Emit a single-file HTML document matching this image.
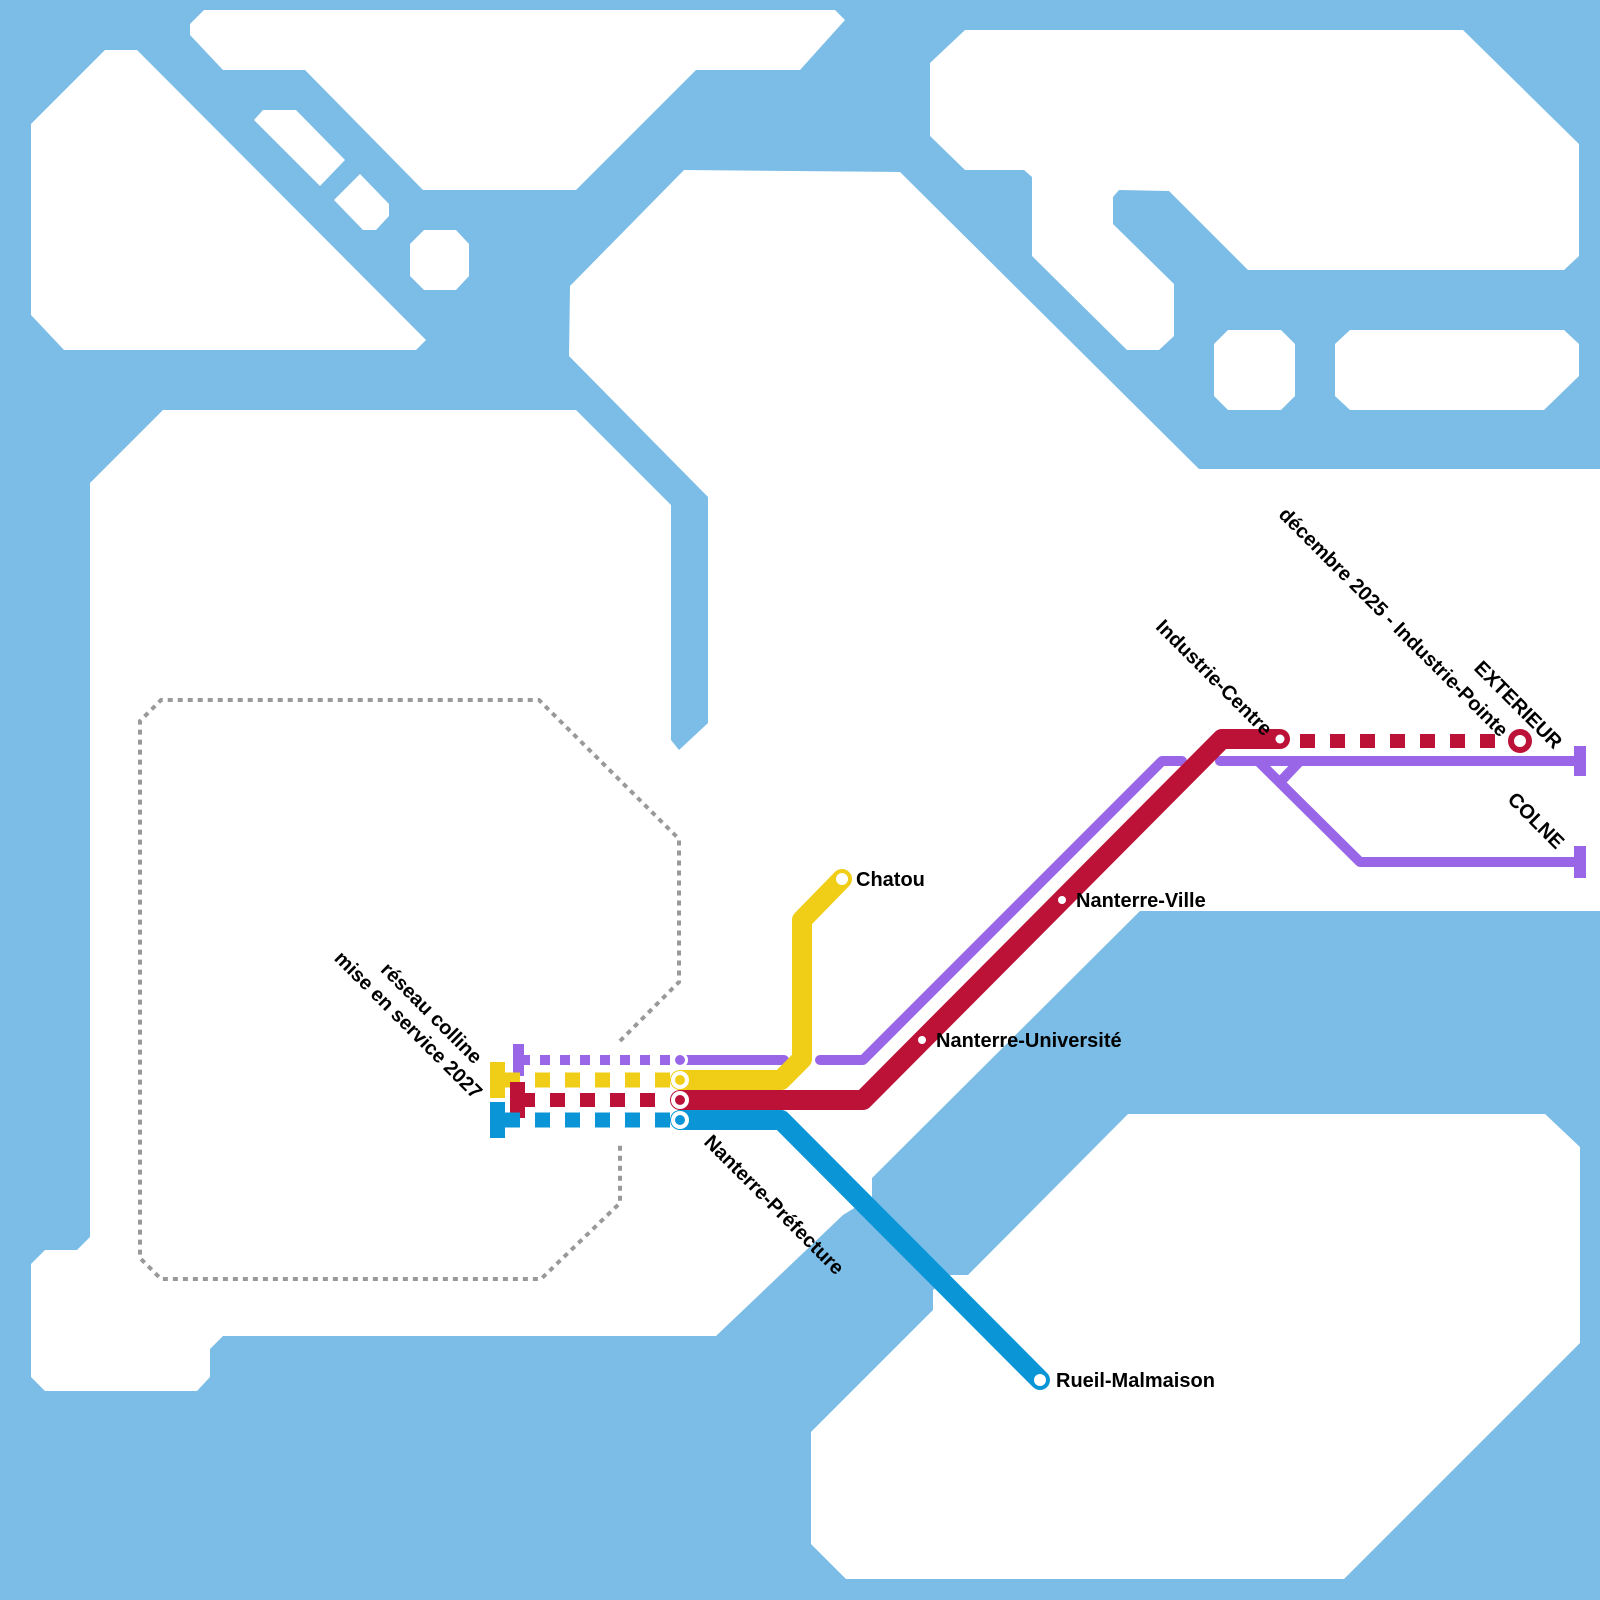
<!DOCTYPE html>
<html><head><meta charset="utf-8"><style>html,body{margin:0;padding:0;background:#fff}svg{display:block}</style></head>
<body>
<svg width="1600" height="1600" viewBox="0 0 1600 1600" xmlns="http://www.w3.org/2000/svg">
<rect width="1600" height="1600" fill="#7bbde6"/>
<g fill="#fff">
<polygon points="31,124 105,50 137,50 426,340 416,350 64,350 31,315"/>
<polygon points="190,24 204,10 835,10 845,20 800,70 696,70 576,190 423,190 305,70 223,70 190,35"/>
<polygon points="254,120 263,110 296,110 345,160 320,186"/>
<polygon points="334,200 360,174 389,204 389,216 376,230 363,230"/>
<polygon points="424,230 456,230 469,244 469,276 456,290 424,290 410,276 410,244"/>
<polygon points="930,63 965,30 1463,30 1579,144 1579,256 1564,270 1248,270 1169,191 1119,190 1113,197 1113,224 1174,284 1174,336 1159,350 1127,350 1032,256 1032,177 1024,170 965,170 930,136"/>
<polygon points="1214,344 1228,330 1281,330 1295,344 1295,396 1281,410 1228,410 1214,396"/>
<polygon points="1335,344 1350,330 1564,330 1579,344 1579,376 1544,410 1350,410 1335,396"/>
<polygon points="570,286 684,170 900,172 1199,469 1600,469 1600,911 1140,911 872,1178 872,1197 843,1215 716,1336 223,1336 210,1349 210,1377 197,1391 45,1391 31,1377 31,1264 45,1250 77,1250 90,1237 90,483 163,410 576,410 671,505 671,740 679,750 708,723 708,497 569,356"/>
<polygon points="1128,1114 1545,1114 1580,1147 1580,1343 1344,1579 846,1579 811,1544 811,1432 933,1310 933,1290 950,1275 968,1275"/>
</g>
<g fill="none" stroke="#999" stroke-width="4" stroke-dasharray="5 5">
<polyline points="620,1041 679,982 679,839 539,700 161,700 140,721 140,1258 161,1279 541,1279 620,1203 620,1141"/>
</g>
<g stroke="#9966e8" stroke-width="10" fill="none" stroke-linecap="round" stroke-linejoin="round">
<polyline points="680,1060 784,1060"/>
<polyline points="820,1060 863,1060 1162,761 1182,761"/>
<polyline points="1220,761 1580,761"/>
<polyline points="1258,761 1360,862 1580,862"/>
<polyline points="1300,761 1282,780"/>
</g>
<g stroke="#9966e8" stroke-width="10" stroke-dasharray="10 10" fill="none"><line x1="520" y1="1060" x2="670" y2="1060"/></g>
<rect x="1574" y="746" width="12" height="30" fill="#9966e8"/>
<rect x="1574" y="846" width="12" height="32" fill="#9966e8"/>
<rect x="513" y="1044" width="11" height="32" fill="#9966e8"/>
<polyline points="680,1080 781,1080 802,1059 802,920 842,879" stroke="#f0cd16" stroke-width="20" fill="none" stroke-linejoin="round" stroke-linecap="round"/>
<g stroke="#f0cd16" stroke-width="15" stroke-dasharray="15 15" fill="none"><line x1="505" y1="1080" x2="670" y2="1080"/></g>
<rect x="490" y="1062" width="15" height="36" fill="#f0cd16"/>
<polyline points="680,1100 863,1100 1222,739 1280,739" stroke="#bd1238" stroke-width="20" fill="none" stroke-linejoin="round" stroke-linecap="round"/>
<g stroke="#bd1238" stroke-width="14" stroke-dasharray="15 15" fill="none"><line x1="520" y1="1100" x2="670" y2="1100"/><line x1="1300" y1="741" x2="1505" y2="741"/></g>
<rect x="510" y="1082" width="15" height="36" fill="#bd1238"/>
<circle cx="1520" cy="741" r="9" fill="#fff" stroke="#bd1238" stroke-width="6"/>
<circle cx="1280" cy="739" r="4.5" fill="#fff"/>
<circle cx="1062" cy="900" r="4" fill="#fff"/>
<circle cx="922" cy="1040" r="4" fill="#fff"/>
<polyline points="680,1120 781,1120 1040,1380" stroke="#0a96d6" stroke-width="20" fill="none" stroke-linejoin="round" stroke-linecap="round"/>
<g stroke="#0a96d6" stroke-width="15" stroke-dasharray="15 15" fill="none"><line x1="505" y1="1120" x2="670" y2="1120"/></g>
<rect x="490" y="1102" width="15" height="36" fill="#0a96d6"/>
<circle cx="1040" cy="1380" r="6" fill="#fff"/>
<circle cx="842" cy="879" r="6" fill="#fff"/>
<circle cx="680" cy="1060" r="8" fill="#fff"/><circle cx="680" cy="1060" r="5" fill="#9966e8"/>
<circle cx="680" cy="1080" r="9" fill="#fff"/><circle cx="680" cy="1080" r="5" fill="#f0cd16"/>
<circle cx="680" cy="1100" r="9" fill="#fff"/><circle cx="680" cy="1100" r="5" fill="#bd1238"/>
<circle cx="680" cy="1120" r="9" fill="#fff"/><circle cx="680" cy="1120" r="5" fill="#0a96d6"/>
<g font-family="Liberation Sans, Arial, sans-serif" font-weight="bold" font-size="20" fill="#000">
<text x="856" y="886">Chatou</text>
<text x="1076" y="907">Nanterre-Ville</text>
<text x="936" y="1047">Nanterre-Université</text>
<text x="1056" y="1387">Rueil-Malmaison</text>
<text transform="translate(703,1143) rotate(45)">Nanterre-Préfecture</text>
<text transform="translate(474,1065) rotate(45)" text-anchor="end">réseau colline</text>
<text transform="translate(474,1100) rotate(45)" text-anchor="end">mise en service 2027</text>
<text transform="translate(1264,737) rotate(45)" text-anchor="end">Industrie-Centre</text>
<text transform="translate(1500,738) rotate(45)" text-anchor="end">décembre 2025 - Industrie-Pointe</text>
<text transform="translate(1554,750) rotate(45)" text-anchor="end">EXTERIEUR</text>
<text transform="translate(1556,850) rotate(45)" text-anchor="end">COLNE</text>
</g>
</svg>
</body></html>
